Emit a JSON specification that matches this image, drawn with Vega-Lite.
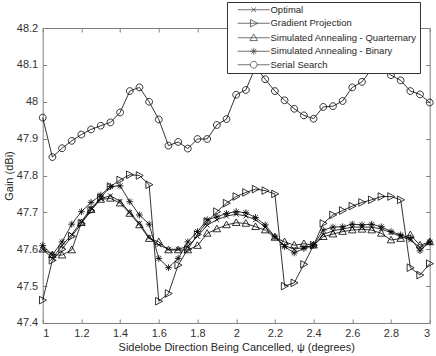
{
  "$schema": "https://vega.github.io/schema/vega-lite/v6.json",
  "width": 387,
  "height": 295,
  "autosize": "none",
  "padding": {"left": 42.7, "top": 28, "right": 6, "bottom": 33},
  "background": "white",
  "data": {"values": [
    {"psi": 1.00, "Optimal": 47.600, "Gradient Projection": 47.462, "Simulated Annealing - Quarternary": 47.600, "Simulated Annealing - Binary": 47.610, "Serial Search": 47.957},
    {"psi": 1.05, "Optimal": 47.575, "Gradient Projection": 47.570, "Simulated Annealing - Quarternary": 47.585, "Simulated Annealing - Binary": 47.585, "Serial Search": 47.850},
    {"psi": 1.10, "Optimal": 47.610, "Gradient Projection": 47.600, "Simulated Annealing - Quarternary": 47.584, "Simulated Annealing - Binary": 47.620, "Serial Search": 47.874},
    {"psi": 1.15, "Optimal": 47.640, "Gradient Projection": 47.635, "Simulated Annealing - Quarternary": 47.598, "Simulated Annealing - Binary": 47.668, "Serial Search": 47.894},
    {"psi": 1.20, "Optimal": 47.675, "Gradient Projection": 47.670, "Simulated Annealing - Quarternary": 47.672, "Simulated Annealing - Binary": 47.702, "Serial Search": 47.911},
    {"psi": 1.25, "Optimal": 47.711, "Gradient Projection": 47.705, "Simulated Annealing - Quarternary": 47.707, "Simulated Annealing - Binary": 47.727, "Serial Search": 47.925},
    {"psi": 1.30, "Optimal": 47.737, "Gradient Projection": 47.740, "Simulated Annealing - Quarternary": 47.735, "Simulated Annealing - Binary": 47.747, "Serial Search": 47.935},
    {"psi": 1.35, "Optimal": 47.745, "Gradient Projection": 47.770, "Simulated Annealing - Quarternary": 47.738, "Simulated Annealing - Binary": 47.770, "Serial Search": 47.944},
    {"psi": 1.40, "Optimal": 47.730, "Gradient Projection": 47.788, "Simulated Annealing - Quarternary": 47.725, "Simulated Annealing - Binary": 47.772, "Serial Search": 47.971},
    {"psi": 1.45, "Optimal": 47.700, "Gradient Projection": 47.802, "Simulated Annealing - Quarternary": 47.697, "Simulated Annealing - Binary": 47.729, "Serial Search": 48.029},
    {"psi": 1.50, "Optimal": 47.670, "Gradient Projection": 47.800, "Simulated Annealing - Quarternary": 47.666, "Simulated Annealing - Binary": 47.693, "Serial Search": 48.039},
    {"psi": 1.55, "Optimal": 47.632, "Gradient Projection": 47.775, "Simulated Annealing - Quarternary": 47.629, "Simulated Annealing - Binary": 47.668, "Serial Search": 48.000},
    {"psi": 1.60, "Optimal": 47.612, "Gradient Projection": 47.459, "Simulated Annealing - Quarternary": 47.620, "Simulated Annealing - Binary": 47.575, "Serial Search": 47.952},
    {"psi": 1.65, "Optimal": 47.600, "Gradient Projection": 47.480, "Simulated Annealing - Quarternary": 47.598, "Simulated Annealing - Binary": 47.550, "Serial Search": 47.881},
    {"psi": 1.70, "Optimal": 47.600, "Gradient Projection": 47.557, "Simulated Annealing - Quarternary": 47.598, "Simulated Annealing - Binary": 47.575, "Serial Search": 47.891},
    {"psi": 1.75, "Optimal": 47.608, "Gradient Projection": 47.600, "Simulated Annealing - Quarternary": 47.598, "Simulated Annealing - Binary": 47.620, "Serial Search": 47.873},
    {"psi": 1.80, "Optimal": 47.635, "Gradient Projection": 47.640, "Simulated Annealing - Quarternary": 47.610, "Simulated Annealing - Binary": 47.648, "Serial Search": 47.899},
    {"psi": 1.85, "Optimal": 47.665, "Gradient Projection": 47.675, "Simulated Annealing - Quarternary": 47.643, "Simulated Annealing - Binary": 47.680, "Serial Search": 47.899},
    {"psi": 1.90, "Optimal": 47.680, "Gradient Projection": 47.702, "Simulated Annealing - Quarternary": 47.655, "Simulated Annealing - Binary": 47.688, "Serial Search": 47.937},
    {"psi": 1.95, "Optimal": 47.690, "Gradient Projection": 47.725, "Simulated Annealing - Quarternary": 47.666, "Simulated Annealing - Binary": 47.697, "Serial Search": 47.953},
    {"psi": 2.00, "Optimal": 47.695, "Gradient Projection": 47.743, "Simulated Annealing - Quarternary": 47.672, "Simulated Annealing - Binary": 47.702, "Serial Search": 48.019},
    {"psi": 2.05, "Optimal": 47.690, "Gradient Projection": 47.754, "Simulated Annealing - Quarternary": 47.670, "Simulated Annealing - Binary": 47.699, "Serial Search": 48.032},
    {"psi": 2.10, "Optimal": 47.680, "Gradient Projection": 47.763, "Simulated Annealing - Quarternary": 47.661, "Simulated Annealing - Binary": 47.686, "Serial Search": 48.095},
    {"psi": 2.15, "Optimal": 47.660, "Gradient Projection": 47.759, "Simulated Annealing - Quarternary": 47.652, "Simulated Annealing - Binary": 47.666, "Serial Search": 48.061},
    {"psi": 2.20, "Optimal": 47.632, "Gradient Projection": 47.750, "Simulated Annealing - Quarternary": 47.632, "Simulated Annealing - Binary": 47.634, "Serial Search": 48.029},
    {"psi": 2.25, "Optimal": 47.610, "Gradient Projection": 47.500, "Simulated Annealing - Quarternary": 47.620, "Simulated Annealing - Binary": 47.607, "Serial Search": 48.004},
    {"psi": 2.30, "Optimal": 47.600, "Gradient Projection": 47.509, "Simulated Annealing - Quarternary": 47.611, "Simulated Annealing - Binary": 47.590, "Serial Search": 47.981},
    {"psi": 2.35, "Optimal": 47.605, "Gradient Projection": 47.559, "Simulated Annealing - Quarternary": 47.615, "Simulated Annealing - Binary": 47.602, "Serial Search": 47.963},
    {"psi": 2.40, "Optimal": 47.610, "Gradient Projection": 47.611, "Simulated Annealing - Quarternary": 47.611, "Simulated Annealing - Binary": 47.611, "Serial Search": 47.954},
    {"psi": 2.45, "Optimal": 47.640, "Gradient Projection": 47.670, "Simulated Annealing - Quarternary": 47.634, "Simulated Annealing - Binary": 47.652, "Serial Search": 47.986},
    {"psi": 2.50, "Optimal": 47.650, "Gradient Projection": 47.693, "Simulated Annealing - Quarternary": 47.641, "Simulated Annealing - Binary": 47.660, "Serial Search": 47.988},
    {"psi": 2.55, "Optimal": 47.655, "Gradient Projection": 47.705, "Simulated Annealing - Quarternary": 47.648, "Simulated Annealing - Binary": 47.661, "Serial Search": 48.002},
    {"psi": 2.60, "Optimal": 47.660, "Gradient Projection": 47.717, "Simulated Annealing - Quarternary": 47.652, "Simulated Annealing - Binary": 47.668, "Serial Search": 48.039},
    {"psi": 2.65, "Optimal": 47.660, "Gradient Projection": 47.727, "Simulated Annealing - Quarternary": 47.654, "Simulated Annealing - Binary": 47.666, "Serial Search": 48.054},
    {"psi": 2.70, "Optimal": 47.660, "Gradient Projection": 47.734, "Simulated Annealing - Quarternary": 47.652, "Simulated Annealing - Binary": 47.668, "Serial Search": 48.088},
    {"psi": 2.75, "Optimal": 47.655, "Gradient Projection": 47.743, "Simulated Annealing - Quarternary": 47.643, "Simulated Annealing - Binary": 47.661, "Serial Search": 48.092},
    {"psi": 2.80, "Optimal": 47.645, "Gradient Projection": 47.743, "Simulated Annealing - Quarternary": 47.625, "Simulated Annealing - Binary": 47.648, "Serial Search": 48.072},
    {"psi": 2.85, "Optimal": 47.635, "Gradient Projection": 47.734, "Simulated Annealing - Quarternary": 47.629, "Simulated Annealing - Binary": 47.639, "Serial Search": 48.058},
    {"psi": 2.90, "Optimal": 47.625, "Gradient Projection": 47.550, "Simulated Annealing - Quarternary": 47.639, "Simulated Annealing - Binary": 47.630, "Serial Search": 48.029},
    {"psi": 2.95, "Optimal": 47.605, "Gradient Projection": 47.530, "Simulated Annealing - Quarternary": 47.611, "Simulated Annealing - Binary": 47.596, "Serial Search": 48.020},
    {"psi": 3.00, "Optimal": 47.618, "Gradient Projection": 47.561, "Simulated Annealing - Quarternary": 47.620, "Simulated Annealing - Binary": 47.620, "Serial Search": 47.998}
  ]},
  "transform": [
    {"fold": ["Optimal", "Gradient Projection", "Simulated Annealing - Quarternary", "Simulated Annealing - Binary", "Serial Search"], "as": ["series", "gain"]}
  ],
  "layer": [
    {
      "mark": {"type": "line", "color": "black", "strokeWidth": 0.8},
      "encoding": {
        "x": {"field": "psi", "type": "quantitative", "scale": {"domain": [1, 3], "nice": false},
          "axis": {"orient": "bottom", "title": "Sidelobe Direction Being Cancelled, ψ (degrees)", "values": [1, 1.2, 1.4, 1.6, 1.8, 2, 2.2, 2.4, 2.6, 2.8, 3], "labelExpr": "format(datum.value, '~g')", "tickSize": -4, "labelPadding": 9, "titleY": 25, "titleBaseline": "middle"}},
        "y": {"field": "gain", "type": "quantitative", "scale": {"domain": [47.4, 48.2], "nice": false, "zero": false},
          "axis": {"orient": "left", "title": "Gain (dBi)", "values": [47.4, 47.5, 47.6, 47.7, 47.8, 47.9, 48, 48.1, 48.2], "labelExpr": "format(datum.value, '~g')", "tickSize": -4, "labelPadding": 9, "titleX": -33, "titleY": 147.5, "titleBaseline": "middle", "titleAngle": -90}},
        "detail": {"field": "series"},
        "order": {"field": "psi"}
      }
    },
    {
      "mark": {"type": "point", "filled": false, "color": "black", "strokeWidth": 0.8, "size": 64, "opacity": 1},
      "encoding": {
        "x": {"field": "psi", "type": "quantitative", "scale": {"domain": [1, 3], "nice": false},
          "axis": {"orient": "top", "title": null, "labels": false, "values": [1, 1.2, 1.4, 1.6, 1.8, 2, 2.2, 2.4, 2.6, 2.8, 3], "tickSize": -4}},
        "y": {"field": "gain", "type": "quantitative", "scale": {"domain": [47.4, 48.2], "nice": false, "zero": false},
          "axis": {"orient": "right", "title": null, "labels": false, "values": [47.4, 47.5, 47.6, 47.7, 47.8, 47.9, 48, 48.1, 48.2], "tickSize": -4}},
        "shape": {"field": "series", "type": "nominal", "legend": null,
          "scale": {"domain": ["Optimal", "Gradient Projection", "Simulated Annealing - Quarternary", "Simulated Annealing - Binary", "Serial Search"],
            "range": ["M-0.6,-0.6L0.6,0.6M-0.6,0.6L0.6,-0.6", "M-0.8,-0.95L0.95,0L-0.8,0.95Z", "M0,-0.95L0.95,0.7L-0.95,0.7Z", "M-0.85,0H0.85M0,-0.85V0.85M-0.6,-0.6L0.6,0.6M-0.6,0.6L0.6,-0.6", "M0.85,0A0.85,0.85 0 1,1 -0.85,0A0.85,0.85 0 1,1 0.85,0Z"]}
        }
      }
    },
    {
      "transform": [{"filter": "false"}],
      "mark": {"type": "point", "filled": false, "color": "black", "strokeWidth": 0.8, "size": 64},
      "encoding": {
        "x": {"field": "psi", "type": "quantitative", "scale": {"domain": [1, 3], "nice": false}, "axis": null},
        "y": {"field": "gain", "type": "quantitative", "scale": {"domain": [47.4, 48.2], "nice": false, "zero": false}, "axis": null},
        "shape": {"field": "series", "type": "nominal",
          "scale": {"domain": ["Optimal", "Gradient Projection", "Simulated Annealing - Quarternary", "Simulated Annealing - Binary", "Serial Search"],
            "range": ["M-4,0H4M-0.6,-0.6L0.6,0.6M-0.6,0.6L0.6,-0.6", "M-4,0H4M-0.8,-0.95L0.95,0L-0.8,0.95Z", "M-4,0H4M0,-0.95L0.95,0.7L-0.95,0.7Z", "M-4,0H4M-0.85,0H0.85M0,-0.85V0.85M-0.6,-0.6L0.6,0.6M-0.6,0.6L0.6,-0.6", "M-4,0H-0.85M0.85,0H4M0.85,0A0.85,0.85 0 1,1 -0.85,0A0.85,0.85 0 1,1 0.85,0Z"]},
          "legend": {
            "title": null,
            "orient": "none",
            "legendX": 184.3,
            "legendY": -26
          }
        }
      }
    }
  ],
  "resolve": {"axis": {"x": "independent", "y": "independent"}, "scale": {"shape": "independent"}},
  "config": {
    "view": {"stroke": null},
    "axis": {
      "grid": false,
      "domainColor": "#808080",
      "domainWidth": 1,
      "tickColor": "#808080",
      "tickWidth": 1,
      "labelColor": "#333333",
      "labelFont": "Liberation Sans",
      "labelFontSize": 11,
      "titleFont": "Liberation Sans",
      "titleFontSize": 11,
      "titleFontWeight": "normal",
      "titleColor": "#262626"
    },
    "legend": {
      "fillColor": "white",
      "strokeColor": "#333333",
      "padding": 3,
      "cornerRadius": 0,
      "labelFont": "Liberation Sans",
      "labelFontSize": 9.5,
      "labelColor": "#262626",
      "symbolSize": 64,
      "symbolStrokeColor": "black",
      "symbolFillColor": "transparent",
      "symbolStrokeWidth": 0.8,
      "symbolOffset": 19,
      "labelOffset": 12,
      "rowPadding": 2.5
    }
  }
}
